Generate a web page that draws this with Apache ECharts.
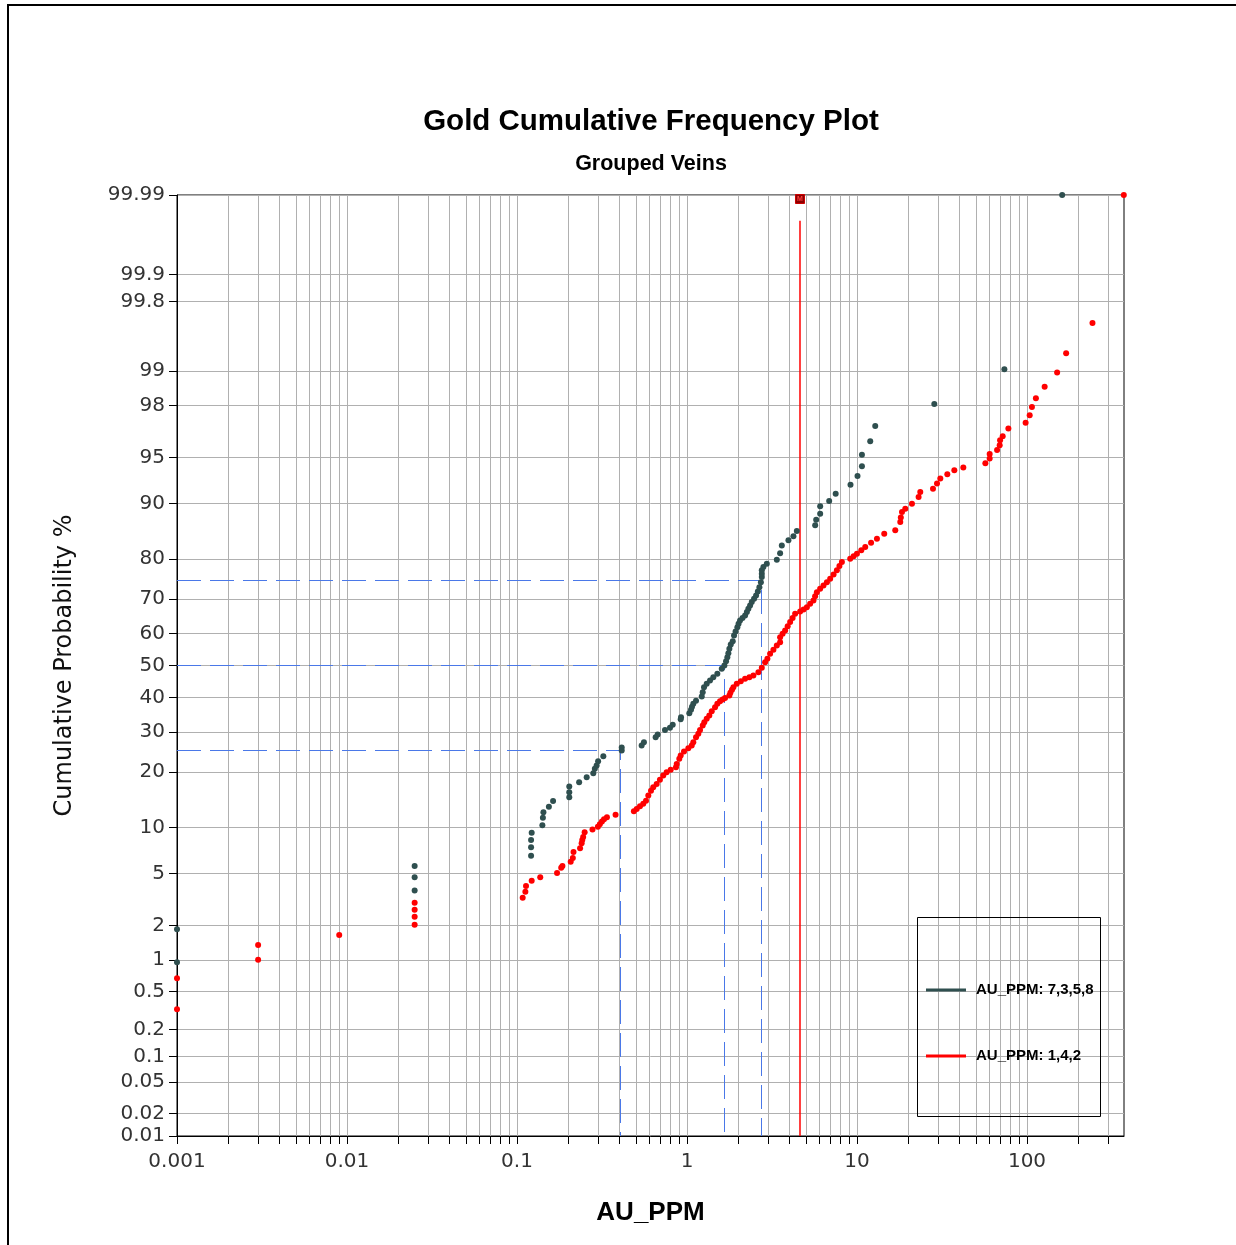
<!DOCTYPE html>
<html>
<head>
<meta charset="utf-8">
<title>Gold Cumulative Frequency Plot</title>
<script src="https://cdn.jsdelivr.net/npm/echarts@6/dist/echarts.min.js"></script>
<style>
  html, body { margin: 0; padding: 0; background: #fff; }
  #chart { width: 1236px; height: 1245px; }
</style>
</head>
<body>
<div id="chart"></div>
<script>
// ---- Data: sorted gold assays (ppm) and their cumulative probability (%) ----
const darkName = 'AU_PPM: 7,3,5,8';
const darkPPM = [0.001, 0.001, 0.025, 0.025, 0.025, 0.121, 0.121, 0.121, 0.122, 0.141,
  0.142, 0.143, 0.154, 0.163, 0.203, 0.203, 0.203, 0.232, 0.257, 0.281,
  0.287, 0.294, 0.300, 0.322, 0.413, 0.413, 0.541, 0.558, 0.654, 0.672,
  0.742, 0.794, 0.824, 0.918, 0.922, 1.032, 1.056, 1.070, 1.089, 1.130, 1.221,
  1.237, 1.259, 1.306, 1.366, 1.428, 1.508, 1.601, 1.659, 1.697, 1.727,
  1.751, 1.775, 1.809, 1.858, 1.891, 1.930, 1.978, 2.010, 2.051, 2.120, 2.196,
  2.250, 2.296, 2.350, 2.404, 2.480, 2.549, 2.610, 2.666, 2.720, 2.754, 2.754,
  2.754, 2.814, 2.947, 3.375, 3.529, 3.611, 3.951,
  4.227, 4.427, 5.674, 5.752, 6.072, 6.072, 6.860, 7.491, 9.157, 10.07,
  10.69, 10.69, 11.96, 12.80, 28.49, 73.6, 161];
const darkPct = [0.95, 1.85, 3.77, 4.70, 5.65, 6.64, 7.55, 8.40, 9.32, 10.35,
  11.45, 12.29, 13.23, 14.19, 14.87, 15.82, 16.93, 17.80, 18.84, 19.71,
  20.70, 21.45, 22.45, 23.64, 25.08, 25.82, 26.34, 27.19, 28.53, 29.25,
  30.54, 31.10, 31.95, 33.54, 34.13, 35.31, 36.31, 37.20, 38.09, 39.01, 40.32,
  41.64, 43.19, 44.24, 45.27, 46.30, 47.37, 48.96, 50.00, 51.36, 52.63,
  53.86, 55.25, 56.59, 57.61, 59.37, 60.60, 61.91, 62.90, 63.91, 64.60, 65.39,
  66.40, 67.31, 68.20, 69.18, 70.10, 71.02, 72.10, 73.20, 74.50, 75.77, 76.60,
  77.40, 78.17, 78.95, 79.85, 81.27, 82.87, 83.87,
  84.63, 85.61, 86.60, 87.55, 88.50, 89.58, 90.32, 91.28, 92.34, 93.29,
  94.23, 95.22, 96.18, 97.08, 98.06, 99.04, 100];

const redName = 'AU_PPM: 1,4,2';
const redPPM = [0.001, 0.001, 0.003, 0.003, 0.009, 0.025, 0.025, 0.025, 0.025, 0.108,
  0.112, 0.113, 0.122, 0.137, 0.172, 0.182, 0.185, 0.207, 0.213, 0.215,
  0.235, 0.240, 0.242, 0.245, 0.250, 0.278, 0.299, 0.307, 0.316, 0.325,
  0.338, 0.380, 0.487, 0.506, 0.529, 0.553, 0.574, 0.592, 0.614, 0.633,
  0.663, 0.693, 0.725, 0.759, 0.802, 0.861, 0.870, 0.901, 0.918, 0.960,
  1.018, 1.066, 1.089, 1.130, 1.166, 1.193, 1.237, 1.264, 1.306, 1.353,
  1.398, 1.462, 1.508, 1.564, 1.620, 1.674, 1.775, 1.800, 1.840, 1.874, 1.962, 2.072, 2.196,
  2.328, 2.458, 2.630, 2.754, 2.880, 2.971, 3.082, 3.223, 3.375, 3.529,
  3.529, 3.650, 3.777, 3.910, 4.043, 4.180, 4.325, 4.630, 4.850, 5.070, 5.300, 5.545,
  5.670, 5.806, 6.070, 6.350, 6.650, 6.953, 7.280, 7.614, 7.880, 8.150, 9.120, 9.550, 9.99,
  10.60, 11.18, 12.10, 13.10, 14.46, 16.79, 17.97, 18.10, 18.39,
  19.23, 21.05, 23.03, 23.56, 27.99, 29.55, 30.90, 33.98, 37.37, 42.21,
  56.89, 60.30, 60.30, 66.68, 69.07, 69.45, 71.94, 77.71, 98.13, 103.7,
  106.9, 112.8, 127.0, 150.4, 169.9, 242.7, 371];
const redPct = [0.33, 0.67, 1.00, 1.36, 1.66, 2.02, 2.35, 2.68, 3.04, 3.32,
  3.69, 4.07, 4.45, 4.71, 5.05, 5.50, 5.65, 6.05, 6.41, 7.01,
  7.44, 8.01, 8.40, 8.77, 9.36, 9.73, 10.13, 10.49, 10.86, 11.20,
  11.51, 11.92, 12.45, 12.84, 13.31, 13.74, 14.27, 15.20, 16.13, 16.78,
  17.47, 18.30, 19.21, 19.93, 20.47, 21.04, 21.83, 23.03, 23.82, 24.82,
  25.65, 26.34, 27.19, 28.53, 29.46, 30.54, 31.74, 32.67, 33.66, 34.61,
  35.87, 37.07, 38.09, 38.90, 39.40, 39.90, 40.63, 41.50, 42.40, 43.19, 44.24, 45.06, 45.82,
  46.30, 46.85, 47.89, 49.28, 51.04, 52.11, 53.69, 54.93, 56.28, 57.30,
  58.86, 59.90, 60.91, 62.20, 63.42, 64.60, 65.87, 66.53, 67.10, 67.76, 68.70, 69.64,
  70.80, 71.90, 72.80, 73.66, 74.50, 75.37, 76.40, 77.40, 78.40, 79.31, 80.07, 80.60, 81.16,
  81.90, 82.54, 83.40, 84.18, 85.13, 85.73, 87.16, 87.90, 88.74,
  89.25, 89.96, 90.86, 91.48, 91.87, 92.48, 93.04, 93.46, 93.86, 94.13,
  94.50, 94.90, 95.27, 95.57, 95.92, 96.25, 96.50, 96.95, 97.25, 97.60,
  97.95, 98.27, 98.62, 98.97, 99.32, 99.66, 100];

// Quartiles of the 7,3,5,8 group (percent -> ppm) and the mean of the 1,4,2 group
const quartilePct = [25, 50, 75];
const quartilePPM = [0.407, 1.67, 2.73];
const redMeanPPM = 4.62;
const redMeanTopPct = 99.978;

// Axis ranges and tick labels
const xMinPPM = 0.001;
const xMaxPPM = 372;
const xTickLabels = ['0.001', '0.01', '0.1', '1', '10', '100'];
const yTickLabels = ['0.01', '0.02', '0.05', '0.1', '0.2', '0.5', '1', '2', '5', '10', '20', '30',
  '40', '50', '60', '70', '80', '90', '95', '98', '99', '99.8', '99.9', '99.99'];

// ---- Probability scale: inverse standard normal (Acklam) ----
function normInv(p) {
  const a = [-3.969683028665376e+01, 2.209460984245205e+02, -2.759285104469687e+02, 1.383577518672690e+02, -3.066479806614716e+01, 2.506628277459239e+00];
  const b = [-5.447609879822406e+01, 1.615858368580409e+02, -1.556989798598866e+02, 6.680131188771972e+01, -1.328068155288572e+01];
  const c = [-7.784894002430293e-03, -3.223964580411365e-01, -2.400758277161838e+00, -2.549732539343734e+00, 4.374664141464968e+00, 2.938163982698783e+00];
  const d = [7.784695709041462e-03, 3.224671290700398e-01, 2.445134137142996e+00, 3.754408661907416e+00];
  const pl = 0.02425, ph = 1 - pl;
  let q, r;
  if (p < pl) {
    q = Math.sqrt(-2 * Math.log(p));
    return (((((c[0] * q + c[1]) * q + c[2]) * q + c[3]) * q + c[4]) * q + c[5]) / ((((d[0] * q + d[1]) * q + d[2]) * q + d[3]) * q + 1);
  }
  if (p <= ph) {
    q = p - 0.5; r = q * q;
    return (((((a[0] * r + a[1]) * r + a[2]) * r + a[3]) * r + a[4]) * r + a[5]) * q / (((((b[0] * r + b[1]) * r + b[2]) * r + b[3]) * r + b[4]) * r + 1);
  }
  q = Math.sqrt(-2 * Math.log(1 - p));
  return -(((((c[0] * q + c[1]) * q + c[2]) * q + c[3]) * q + c[4]) * q + c[5]) / ((((d[0] * q + d[1]) * q + d[2]) * q + d[3]) * q + 1);
}
const pz = p => normInv(Math.min(Math.max(p, 0.01), 99.99) / 100);
const lg = v => Math.log10(v);

const xMin = lg(xMinPPM), xMax = lg(xMaxPPM);
const yMin = pz(0.01), yMax = pz(99.99);

const xLabelVals = xTickLabels.map(s => lg(parseFloat(s)));
const xTickVals = [];
for (let dec = -3; dec <= 2; dec++) {
  for (let k = 1; k <= 9; k++) {
    const v = dec + Math.log10(k);
    if (v <= xMax + 1e-9) xTickVals.push(v);
  }
}
const yTickVals = yTickLabels.map(s => pz(parseFloat(s)));

function nearestLabel(vals, labels, v) {
  let best = 0;
  for (let i = 1; i < vals.length; i++) if (Math.abs(vals[i] - v) < Math.abs(vals[best] - v)) best = i;
  return labels[best];
}
const toPoints = (ppm, pct) => ppm.map((v, i) => [lg(v), pz(pct[i])]);

// ---- Guide lines: quartile read-offs (L-shaped dashed polylines) ----
const guideBlue = '#4a78e8';
const guidePath = (xq, yq) => [[xMin, yq], [xq, yq], [xq, yMin]];
const guideSeries = quartilePct.map((p, i) => ({
  name: 'Q' + p, type: 'line', zlevel: 1, z: 3, silent: true, showSymbol: false, symbol: 'none',
  lineStyle: { color: guideBlue, width: 1, type: [24, 9], opacity: 1 },
  itemStyle: { color: guideBlue },
  emphasis: { disabled: true },
  data: guidePath(lg(quartilePPM[i]), pz(p))
}));

const labelFont = { fontFamily: 'DejaVu Sans', fontSize: 20, color: '#333' };

const option = {
  animation: false,
  backgroundColor: '#fff',
  grid: { left: 177, right: 112, top: 195, bottom: 109, show: true, borderColor: '#000', borderWidth: 1, backgroundColor: 'transparent' },
  xAxis: {
    type: 'value', min: xMin, max: xMax, z: 0,
    axisLine: { show: true, onZero: false, lineStyle: { color: '#000', width: 1 } },
    axisTick: { show: true, customValues: xTickVals, length: 8, lineStyle: { color: '#000' } },
    axisLabel: Object.assign({ customValues: xLabelVals, margin: 16,
      formatter: v => nearestLabel(xLabelVals, xTickLabels, v) }, labelFont),
    splitLine: { show: true, lineStyle: { color: '#b0b0b0', width: 1 } },
    name: 'AU_PPM', nameLocation: 'middle', nameGap: 64,
    nameTextStyle: { fontFamily: 'Liberation Sans', fontWeight: 'bold', fontSize: 26, color: '#000' }
  },
  yAxis: {
    type: 'value', min: yMin, max: yMax, z: 0,
    axisLine: { show: true, onZero: false, lineStyle: { color: '#000', width: 1 } },
    axisTick: { show: true, customValues: yTickVals, length: 8, lineStyle: { color: '#000' } },
    axisLabel: Object.assign({ customValues: yTickVals, margin: 12,
      formatter: v => nearestLabel(yTickVals, yTickLabels, v) }, labelFont),
    splitLine: { show: true, lineStyle: { color: '#b0b0b0', width: 1 } },
    name: 'Cumulative Probability %', nameLocation: 'middle', nameGap: 100, nameRotate: 90,
    nameTextStyle: { fontFamily: 'DejaVu Sans', fontSize: 24, color: '#111' }
  },
  legend: {
    orient: 'vertical', left: 921, top: 977, itemGap: 50, itemWidth: 40, itemHeight: 3,
    icon: 'rect', selectedMode: false, data: [darkName, redName],
    textStyle: { fontFamily: 'Liberation Sans', fontWeight: 'bold', fontSize: 15, color: '#000', lineHeight: 16, padding: [0, 0, 0, 5] }
  },
  graphic: [
    { type: 'rect', shape: { x: 8, y: 5, width: 1240, height: 1250 }, style: { fill: 'none', stroke: '#000', lineWidth: 2 }, silent: true },
    { type: 'rect', shape: { x: 917.5, y: 917.5, width: 183, height: 199 }, style: { fill: 'none', stroke: '#000', lineWidth: 1 }, silent: true, z: 10 },
    { type: 'text', x: 651, y: 122, style: { text: 'Gold Cumulative Frequency Plot', align: 'center', verticalAlign: 'middle', font: 'bold 29.5px "Liberation Sans"', fill: '#000' } },
    { type: 'text', x: 651, y: 164, style: { text: 'Grouped Veins', align: 'center', verticalAlign: 'middle', font: 'bold 21.5px "Liberation Sans"', fill: '#000' } }
  ],
  series: guideSeries.concat([
    {
      name: 'mean', type: 'line', zlevel: 1, z: 3, silent: true, showSymbol: false, symbol: 'none',
      lineStyle: { color: '#ff0000', width: 1.5, type: 'solid' },
      itemStyle: { color: '#ff0000' },
      emphasis: { disabled: true },
      data: [[lg(redMeanPPM), pz(redMeanTopPct)], [lg(redMeanPPM), yMin]],
      markPoint: {
        silent: true, symbol: 'rect', symbolSize: [9, 9], symbolOffset: [0, 4],
        itemStyle: { color: '#8b0000', borderColor: '#cc0000', borderWidth: 1 },
        label: { show: true, formatter: 'M', fontSize: 7, color: '#ff4040', fontWeight: 'bold' },
        data: [{ coord: [lg(redMeanPPM), yMax] }]
      }
    },
    {
      name: darkName, type: 'scatter', symbol: 'circle', symbolSize: 6, zlevel: 1, z: 4,
      itemStyle: { color: '#2f4f4f', opacity: 1 },
      data: toPoints(darkPPM, darkPct)
    },
    {
      name: redName, type: 'scatter', symbol: 'circle', symbolSize: 6, zlevel: 1, z: 4,
      itemStyle: { color: '#ff0000', opacity: 1 },
      data: toPoints(redPPM, redPct)
    }
  ])
};

const chart = echarts.init(document.getElementById('chart'));
chart.setOption(option);

// Keep the thin 1px guide lines crisp: nudge each quartile line onto the centre
// of the pixel it falls in, using the chart's own value <-> pixel conversion.
const crisp = (xv, yv) => {
  const px = chart.convertToPixel({ gridIndex: 0 }, [xv, yv]);
  return chart.convertFromPixel({ gridIndex: 0 }, [Math.floor(px[0]) + 0.5, Math.floor(px[1]) + 0.5]);
};
chart.setOption({
  series: quartilePct.map((p, i) => {
    const c = crisp(lg(quartilePPM[i]), pz(p));
    return { name: 'Q' + p, data: guidePath(c[0], c[1]) };
  })
});
</script>
</body>
</html>
